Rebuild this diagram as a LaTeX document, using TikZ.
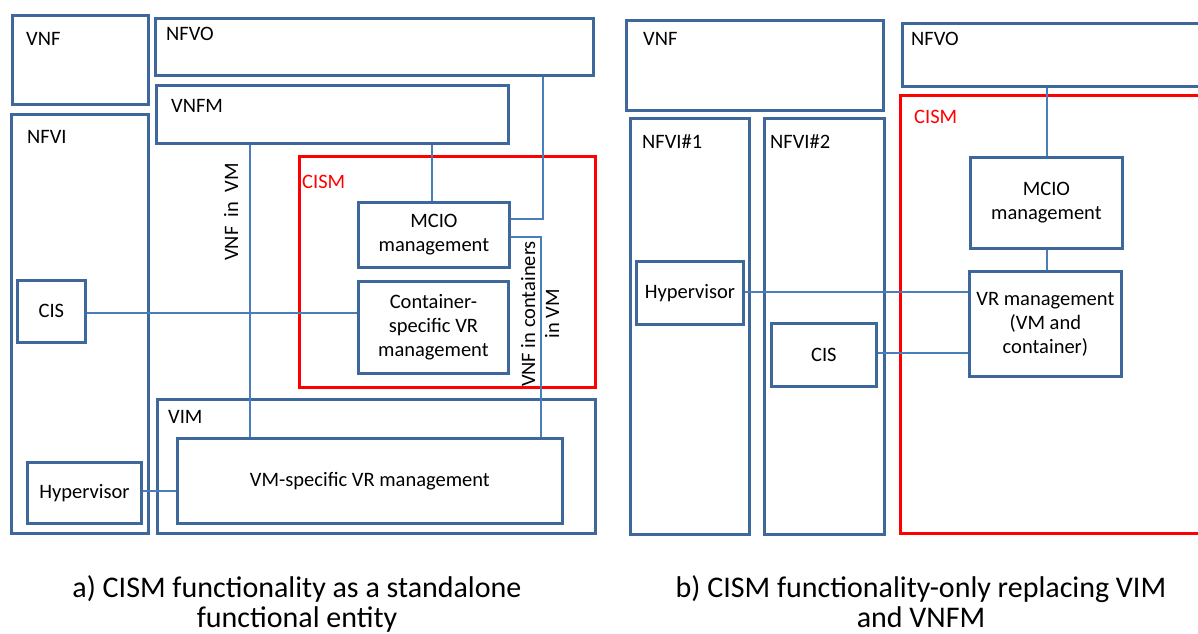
\documentclass[tikz,border=0pt]{standalone}
\usepackage{fontspec}
\setmainfont{Carlito}
\definecolor{boxblue}{RGB}{62,104,156}
\definecolor{lineblue}{RGB}{74,126,187}
\definecolor{cismred}{RGB}{255,0,0}
\tikzset{
  blk/.style={draw=boxblue, line width=2.8pt, anchor=north west, inner sep=0pt, font=\fontsize{20.5}{24}\selectfont, align=center},
  redblk/.style={blk, draw=cismred},
  ttl/.style={anchor=base west, inner sep=0pt, font=\fontsize{20.5}{24}\selectfont},
  conn/.style={draw=lineblue, line width=2.6pt},
  captext/.style={align=center, inner sep=0pt, font=\fontsize{30}{30}\selectfont},
}
\newcommand{\bx}[6][blk]{\node[#1, minimum width=#4-#2, minimum height=#5-#3] (#6) at (#2,#3) {};}
\begin{document}
\begin{tikzpicture}[x=1pt,y=-1pt]
\clip (0,0) rectangle (1198,633);
\fill[white] (0,0) rectangle (1198,633);
% ===== left panel =====
\bx{11}{14}{147}{103}{lvnf}
\bx{154}{17}{592}{74}{lnfvo}
\bx{155}{84}{507}{142}{lvnfm}
\bx{10}{113}{147}{532}{lnfvi}
\bx{156}{398}{594}{532}{lvim}
\bx[redblk]{298}{155}{594}{386}{lcism}
\node[blk, minimum width=151, minimum height=65] (lmcio) at (357,201) {MCIO\\management};
\node[blk, minimum width=150, minimum height=92] (lcont) at (357,280) {Container-\\specific VR\\management};
\node[blk, minimum width=68, minimum height=62] (lcis) at (16,279) {CIS};
\node[blk, minimum width=385, minimum height=85] (lvmvr) at (176,437) {VM-specific VR management};
\node[blk, minimum width=114, minimum height=61] (lhyp) at (26,461) {Hypervisor};
\node[ttl] (tvnf) at (26,45) {VNF};
\node[ttl] (tnfvo) at (166,40) {NFVO};
\node[ttl] (tvnfm) at (171,112) {VNFM};
\node[ttl] (tnfvi) at (27,143) {NFVI};
\node[ttl, text=cismred] (tcism) at (302,188) {CISM};
\node[ttl] (tvim) at (168,423) {VIM};
\coordinate (xa) at (250,0);
\coordinate (xb) at (432,0);
\coordinate (xc) at (543,0);
\coordinate (xd) at (541,0);
\coordinate (ya) at (0,219);
\coordinate (yb) at (0,237);
\coordinate (yc) at (0,313);
\coordinate (yd) at (0,491);
\draw[conn] (lvnfm.south -| xa) -- (lvmvr.north -| xa);
\draw[conn] (lvnfm.south -| xb) -- (lmcio.north -| xb);
\draw[conn] (lnfvo.south -| xc) |- (lmcio.east |- ya);
\draw[conn] (lmcio.east |- yb) -| (lvmvr.north -| xd);
\draw[conn] (lcis.east |- yc) -- (lcont.west |- yc);
\draw[conn] (lhyp.east |- yd) -- (lvmvr.west |- yd);
\node[rotate=90, inner sep=0pt, font=\fontsize{20.5}{24}\selectfont] (lvnfvm) at (231,212) {VNF~ in~ VM};
\node[rotate=90, inner sep=0pt, align=center, font=\fontsize{20.5}{24}\selectfont] (lvnfcont) at (540,314) {VNF in containers\\in VM};
% ===== right panel =====
\bx{625}{19}{882}{109}{rvnf}
\bx{901}{22}{1230}{85}{rnfvo}
\bx[redblk]{899}{94}{1230}{532}{rcism}
\bx{629}{117}{748}{533}{rnfvi1}
\bx{763}{117}{883}{533}{rnfvi2}
\node[blk, minimum width=152, minimum height=91] (rmcio) at (969,156) {MCIO\\management};
\node[blk, minimum width=152, minimum height=105] (rvr) at (968,270) {VR management\\(VM and\\container)};
\node[blk, minimum width=107, minimum height=63] (rhyp) at (635,260) {Hypervisor};
\node[blk, minimum width=105, minimum height=63] (rcis) at (770,322) {CIS};
\node[ttl] (trvnf) at (643,45) {VNF};
\node[ttl] (trnfvo) at (911,45) {NFVO};
\node[ttl, text=cismred] (trcism) at (914,123) {CISM};
\node[ttl] (trnfvi1) at (642,148) {NFVI\#1};
\node[ttl] (trnfvi2) at (770,148) {NFVI\#2};
\coordinate (xe) at (1047,0);
\coordinate (ye) at (0,292);
\coordinate (yf) at (0,353);
\draw[conn] (rnfvo.south -| xe) -- (rmcio.north -| xe);
\draw[conn] (rmcio.south -| xe) -- (rvr.north -| xe);
\draw[conn] (rhyp.east |- ye) -- (rvr.west |- ye);
\draw[conn] (rcis.east |- yf) -- (rvr.west |- yf);
% ===== captions =====
\node[captext, anchor=base] (capa) at (297,627) {a) CISM functionality as a standalone\\functional entity};
\node[captext, anchor=base] (capb) at (921,627) {b) CISM functionality-only replacing VIM\\and VNFM};
\end{tikzpicture}
\end{document}
